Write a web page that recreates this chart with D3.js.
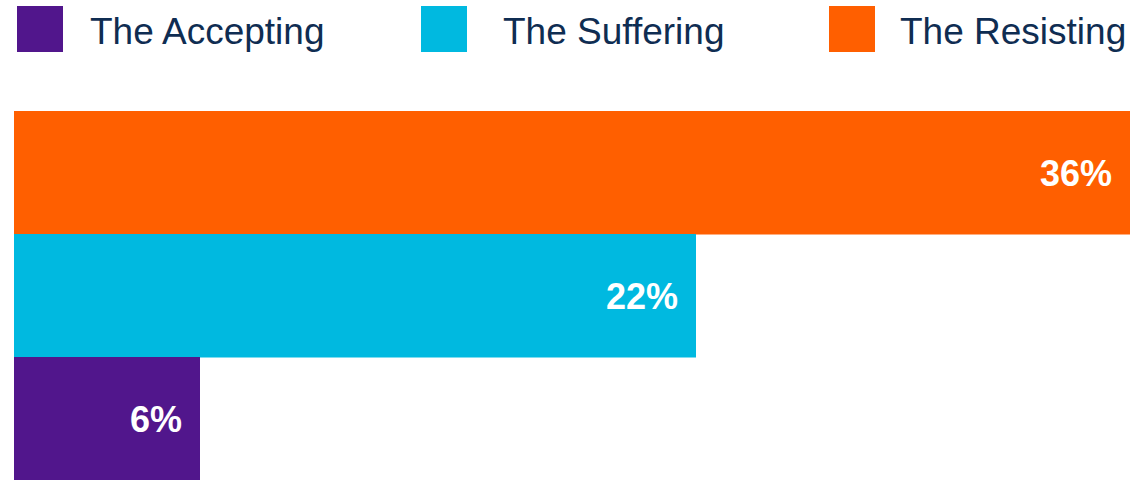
<!DOCTYPE html>
<html>
<head>
<meta charset="utf-8">
<script src="https://cdn.jsdelivr.net/npm/d3@7"></script>
<style>
  html, body { margin: 0; padding: 0; background: #ffffff; }
  svg { display: block; }
</style>
</head>
<body>
<svg id="chart" width="1133" height="480"></svg>
<script>
// Segments, listed top to bottom as drawn in the bar stack
const categories = ["The Resisting", "The Suffering", "The Accepting"];
const values = [36, 22, 6];
const colors = ["#FF5F00", "#00B9E0", "#51168C"];

// Legend order, left to right
const legendOrder = ["The Accepting", "The Suffering", "The Resisting"];

const svg = d3.select("#chart");
const font = "'Liberation Sans', Arial, Helvetica, sans-serif";

const colorOf = d3.scaleOrdinal().domain(categories).range(colors);

const x = d3.scaleLinear().domain([0, d3.max(values)]).range([14, 1130]);
const y = d3.scaleBand().domain(categories).range([111, 480]).padding(0);

const data = categories.map((c, i) => ({ name: c, value: values[i] }));

// Bars
svg.append("g")
  .selectAll("rect")
  .data(data)
  .join("rect")
  .attr("x", x(0))
  .attr("y", d => y(d.name))
  .attr("width", d => x(d.value) - x(0))
  .attr("height", y.bandwidth() + 0.5)
  .attr("fill", d => colorOf(d.name));

// Value labels, right-aligned inside each bar
svg.append("g")
  .selectAll("text")
  .data(data)
  .join("text")
  .attr("x", d => x(d.value) - 18)
  .attr("y", d => y(d.name) + y.bandwidth() / 2 + 13)
  .attr("text-anchor", "end")
  .attr("fill", "#ffffff")
  .attr("font-family", font)
  .attr("font-weight", "bold")
  .attr("font-size", 36)
  .text(d => d.value + "%");

// Legend: swatch and label positions per entry
const swatchX = [17, 421, 829];
const labelX = [90, 503, 900];
const legend = svg.append("g")
  .selectAll("g")
  .data(legendOrder)
  .join("g");

legend.append("rect")
  .attr("x", (d, i) => swatchX[i])
  .attr("y", 6)
  .attr("width", 46)
  .attr("height", 46)
  .attr("fill", d => colorOf(d));

legend.append("text")
  .attr("x", (d, i) => labelX[i])
  .attr("y", 44)
  .attr("fill", "#0F2D52")
  .attr("font-family", font)
  .attr("font-size", 37)
  .text(d => d);
</script>
</body>
</html>
